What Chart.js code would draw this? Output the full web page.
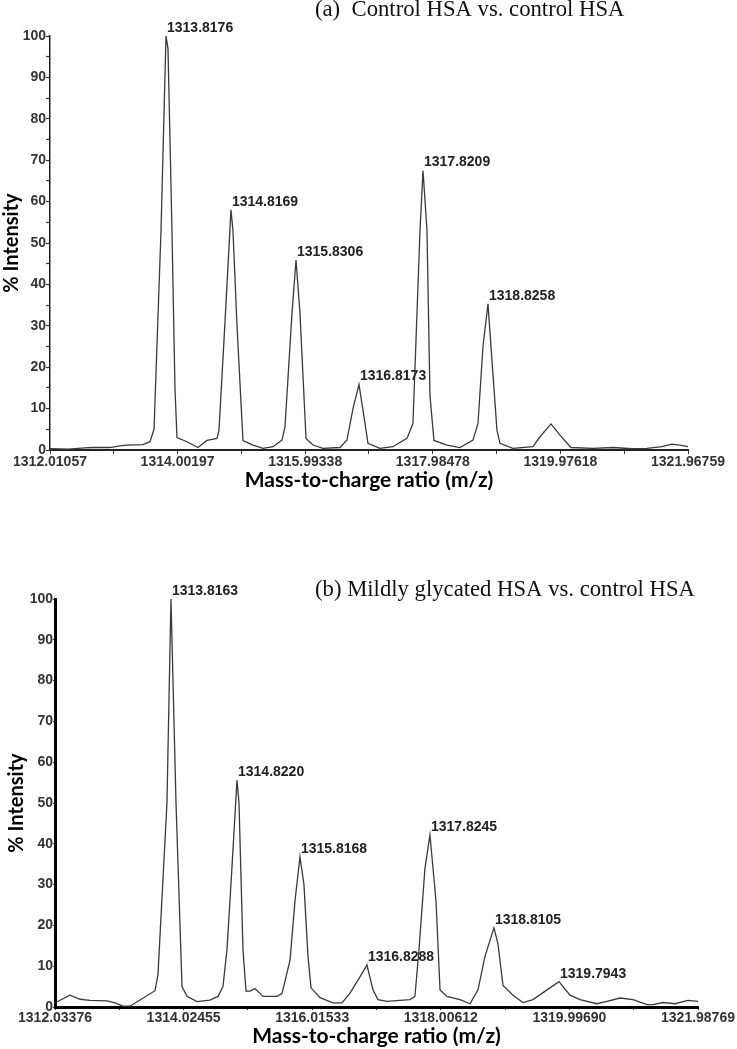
<!DOCTYPE html>
<html>
<head>
<meta charset="utf-8">
<script src="https://cdn.jsdelivr.net/npm/chart.js@4.4.1/dist/chart.umd.min.js"></script>
<style>
  html, body { margin: 0; padding: 0; background: #fff; }
  .panel { position: absolute; left: 0; width: 737px; }
  #panelA { top: 0; height: 500px; }
  #panelB { top: 540px; height: 509px; }
</style>
</head>
<body>
<div class="panel" id="panelA"><canvas id="chartA"></canvas></div>
<div class="panel" id="panelB"><canvas id="chartB"></canvas></div>
<script>
// (a) Control HSA vs. control HSA
const mzA = [1312.011, 1312.30, 1312.55, 1312.682, 1312.947, 1313.10, 1313.212, 1313.462, 1313.571, 1313.634,
  1313.743, 1313.821, 1313.852, 1313.914, 1313.961, 1313.992, 1314.149, 1314.320, 1314.461, 1314.617,
  1314.648, 1314.742, 1314.835, 1314.866, 1314.929, 1315.022, 1315.178, 1315.335, 1315.491, 1315.631,
  1315.678, 1315.787, 1315.850, 1315.912, 1316.006, 1316.115, 1316.271, 1316.536, 1316.646, 1316.739,
  1316.833, 1316.911, 1316.973, 1317.160, 1317.363, 1317.582, 1317.675, 1317.785, 1317.832, 1317.894,
  1317.941, 1318.003, 1318.206, 1318.409, 1318.612, 1318.690, 1318.768, 1318.846, 1318.908, 1318.986,
  1319.033, 1319.236, 1319.548, 1319.657, 1319.829, 1319.969, 1320.141, 1320.485, 1320.797, 1321.100,
  1321.327, 1321.561, 1321.717, 1321.842, 1321.967];
const intA = [0.3, 0.2, 0.5, 0.6, 0.6, 1.0, 1.2, 1.3, 2.0, 5.0,
  53, 100, 97, 53, 15, 3.0, 2.0, 0.6, 2.3, 2.8,
  4.8, 31, 58, 53, 30, 2.3, 1.2, 0.4, 0.8, 2.4,
  5.6, 33, 45.9, 33, 2.8, 1.2, 0.4, 0.6, 2.4, 10,
  15.8, 8, 1.6, 0.4, 0.8, 2.8, 6.4, 53, 67.5, 53,
  13, 2.3, 1.2, 0.6, 2.4, 6.4, 25, 35.3, 21.7, 4.8,
  1.6, 0.4, 0.8, 3.2, 6.3, 3.6, 0.6, 0.4, 0.6, 0.3,
  0.4, 0.8, 1.4, 1.2, 0.8];
const peakLabelsA = ['1313.8176', '1314.8169', '1315.8306', '1316.8173', '1317.8209', '1318.8258'];
const xTicksA = ['1312.01057', '1314.00197', '1315.99338', '1317.98478', '1319.97618', '1321.96759'];

// (b) Mildly glycated HSA vs. control HSA
const mzB = [1312.034, 1312.065, 1312.266, 1312.421, 1312.576, 1312.839, 1312.963, 1313.086, 1313.195, 1313.350,
  1313.582, 1313.628, 1313.767, 1313.829, 1313.907, 1314.000, 1314.077, 1314.232, 1314.433, 1314.557,
  1314.634, 1314.696, 1314.774, 1314.851, 1314.882, 1314.944, 1314.991, 1315.052, 1315.130, 1315.254,
  1315.470, 1315.548, 1315.672, 1315.749, 1315.826, 1315.888, 1315.950, 1315.997, 1316.136, 1316.337,
  1316.476, 1316.600, 1316.755, 1316.863, 1316.956, 1317.034, 1317.173, 1317.529, 1317.606, 1317.668,
  1317.761, 1317.838, 1317.932, 1317.994, 1318.102, 1318.303, 1318.458, 1318.582, 1318.690, 1318.829,
  1318.891, 1318.969, 1319.124, 1319.278, 1319.433, 1319.650, 1319.836, 1320.006, 1320.161, 1320.424,
  1320.578, 1320.780, 1320.981, 1321.198, 1321.291, 1321.446, 1321.631, 1321.833, 1321.988];
const intB = [1.0, 1.3, 2.9, 1.9, 1.6, 1.5, 1.0, 0.2, 0.2, 1.7,
  4.0, 8, 50, 100, 50, 5.0, 2.6, 1.3, 1.7, 2.6,
  5, 14, 34.4, 55.6, 50, 14, 3.9, 3.9, 4.5, 2.6,
  2.6, 3.3, 11.5, 26, 36.8, 30, 12.4, 4.7, 2.3, 1.0,
  1.0, 3.4, 7.4, 10.3, 4.2, 1.8, 1.4, 1.8, 2.6, 14,
  34, 42.2, 26, 4.2, 2.6, 1.8, 0.8, 4.2, 12.4, 19.4,
  15.5, 5.3, 2.9, 1.1, 1.8, 4.2, 6.2, 2.9, 1.8, 0.8,
  1.4, 2.2, 1.8, 0.6, 0.6, 1.1, 0.8, 1.6, 1.4];
const peakLabelsB = ['1313.8163', '1314.8220', '1315.8168', '1316.8288', '1317.8245', '1318.8105', '1319.7943'];
const xTicksB = ['1312.03376', '1314.02455', '1316.01533', '1318.00612', '1319.99690', '1321.98769'];

const yTitle = '% Intensity';
const xTitle = 'Mass-to-charge ratio (m/z)';

const tickFont = { family: "'Liberation Sans', Arial, sans-serif", size: 14, weight: 'bold' };
const axisTitleFont = { family: "Lato, 'Open Sans', sans-serif", size: 21, weight: 'bold' };

// label each peak at the highest point near its m/z
const peakLabelPlugin = {
    id: 'peakLabels',
    afterDatasetsDraw(chart, args, opts) {
        const { ctx, scales } = chart;
        const pts = chart.data.datasets[0].data;
        ctx.save();
        ctx.font = "bold 14px 'Liberation Sans', Arial, sans-serif";
        ctx.fillStyle = '#222';
        ctx.textAlign = 'left';
        ctx.textBaseline = 'middle';
        opts.labels.forEach(lbl => {
            const target = parseFloat(lbl);
            let best = null;
            pts.forEach(p => {
                if (Math.abs(p.x - target) < 0.12 && (!best || p.y > best.y)) best = p;
            });
            if (!best) return;
            const px = scales.x.getPixelForValue(best.x);
            const py = scales.y.getPixelForValue(best.y);
            ctx.fillText(lbl, px + 1, py - 8);
        });
        ctx.restore();
    }
};

// panel caption, serif, placed relative to the plot area
const panelTitlePlugin = {
    id: 'panelTitle',
    afterDraw(chart, args, opts) {
        const { ctx, chartArea } = chart;
        ctx.save();
        ctx.font = "22.7px 'Liberation Serif', 'Times New Roman', serif";
        ctx.fillStyle = '#111';
        ctx.textAlign = 'left';
        ctx.textBaseline = 'alphabetic';
        ctx.fillText(opts.text, chartArea.left + opts.dx, chartArea.top + opts.dy);
        ctx.restore();
    }
};

function makeSpectrum(canvasId, mz, intensity, xTicks, peakLabels, cfg) {
    const points = mz.map((m, i) => ({ x: m, y: intensity[i] }));
    return new Chart(document.getElementById(canvasId), {
        type: 'line',
        data: {
            datasets: [{
                data: points,
                borderColor: '#3a3a3a',
                borderWidth: 1.3,
                pointRadius: 0,
                tension: 0,
                fill: false
            }]
        },
        options: {
            responsive: true,
            maintainAspectRatio: false,
            animation: false,
            events: [],
            layout: { padding: cfg.padding },
            plugins: {
                legend: { display: false },
                tooltip: { enabled: false },
                peakLabels: { labels: peakLabels },
                panelTitle: cfg.title
            },
            scales: {
                x: {
                    type: 'linear',
                    min: parseFloat(xTicks[0]),
                    max: parseFloat(xTicks[xTicks.length - 1]),
                    afterBuildTicks: (scale) => {
                        const major = xTicks.map(Number);
                        const ticks = [];
                        major.forEach((v, i) => {
                            ticks.push({ value: v });
                            if (i < major.length - 1) ticks.push({ value: (v + major[i + 1]) / 2 });
                        });
                        scale.ticks = ticks;
                    },
                    afterFit: (scale) => { scale.height = cfg.xHeight; },
                    ticks: {
                        autoSkip: false,
                        maxRotation: 0,
                        minRotation: 0,
                        padding: 0,
                        color: '#333',
                        font: tickFont,
                        callback: (value, index) => index % 2 === 0 ? xTicks[index / 2] : ''
                    },
                    grid: {
                        drawOnChartArea: false,
                        drawTicks: true,
                        tickLength: cfg.xTickLength,
                        tickColor: '#333',
                        tickWidth: 1
                    },
                    border: { display: true, color: cfg.axisColor, width: cfg.xBorder },
                    title: {
                        display: true,
                        text: xTitle,
                        color: '#000',
                        font: axisTitleFont,
                        padding: { top: 0, bottom: cfg.xTitlePad }
                    }
                },
                y: {
                    min: 0,
                    max: 100,
                    afterFit: (scale) => { scale.width = cfg.yWidth; },
                    ticks: {
                        stepSize: cfg.yStep,
                        padding: 0,
                        color: '#333',
                        font: tickFont,
                        callback: (value) => value % 10 === 0 ? value : ''
                    },
                    grid: {
                        drawOnChartArea: false,
                        drawTicks: true,
                        tickLength: cfg.yTickLength,
                        tickColor: '#333',
                        tickWidth: 1.2
                    },
                    border: { display: true, color: cfg.axisColor, width: cfg.yBorder },
                    title: {
                        display: true,
                        text: yTitle,
                        color: '#000',
                        font: { family: axisTitleFont.family, size: 20, weight: 'bold' },
                        padding: { top: cfg.yTitlePad, bottom: 0 }
                    }
                }
            }
        },
        plugins: [peakLabelPlugin, panelTitlePlugin]
    });
}

makeSpectrum('chartA', mzA, intA, xTicksA, peakLabelsA, {
    padding: { top: 36, right: 49, bottom: 0, left: 0 },
    xHeight: 50,
    yWidth: 50,
    xTickLength: 4,
    yTickLength: 4,
    yStep: 5,
    xBorder: 2,
    yBorder: 1.5,
    axisColor: '#222',
    xTitlePad: 7,
    yTitlePad: 0,
    title: { text: '(a)  Control HSA vs. control HSA', dx: 265, dy: -20 }
});

makeSpectrum('chartB', mzB, intB, xTicksB, peakLabelsB, {
    padding: { top: 59, right: 39, bottom: 0, left: 0 },
    xHeight: 42,
    yWidth: 55,
    xTickLength: 3,
    yTickLength: 2,
    yStep: 10,
    xBorder: 3,
    yBorder: 3,
    axisColor: '#000',
    xTitlePad: 0,
    yTitlePad: 5,
    title: { text: '(b) Mildly glycated HSA vs. control HSA', dx: 260, dy: -3 }
});
</script>
</body>
</html>
